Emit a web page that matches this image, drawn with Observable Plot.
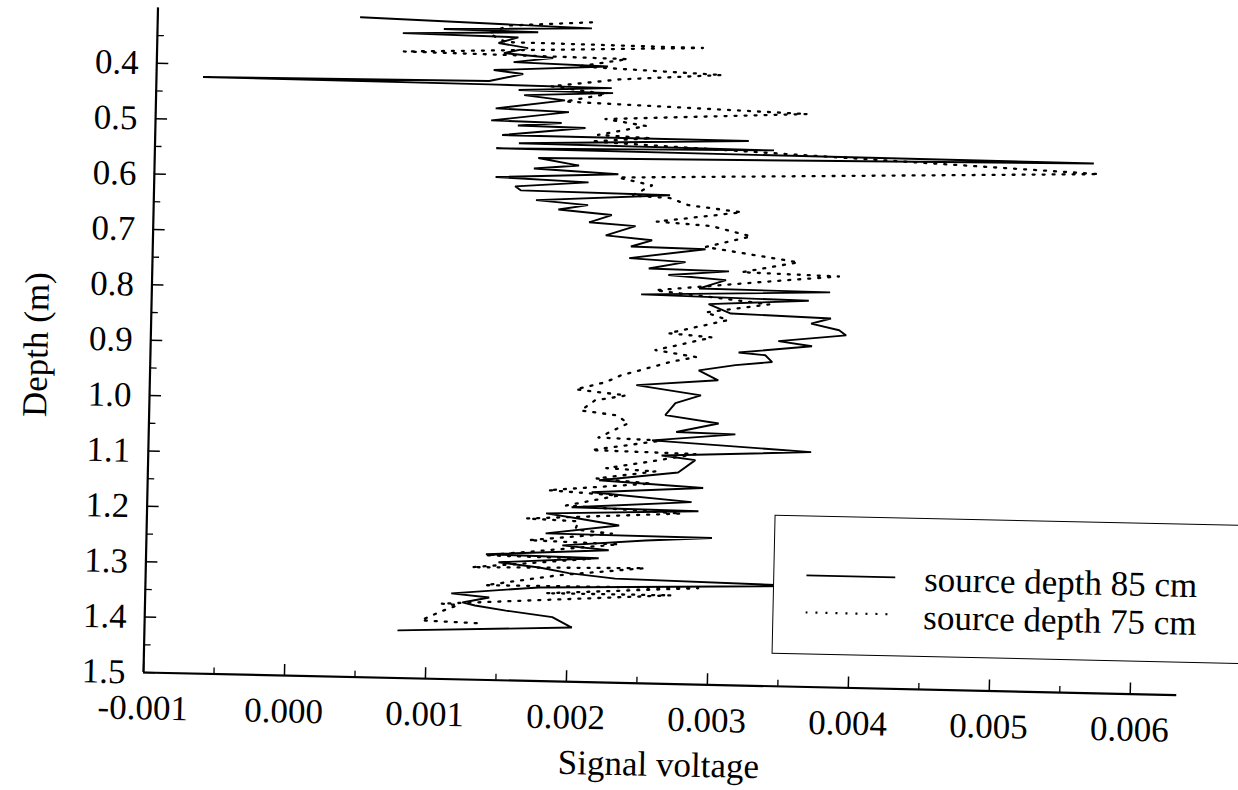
<!DOCTYPE html>
<html><head><meta charset="utf-8">
<script src="https://cdn.jsdelivr.net/npm/d3@7"></script>
<script src="https://cdn.jsdelivr.net/npm/@observablehq/plot@0.6"></script>
<style>
html,body{margin:0;padding:0;background:#fff;overflow:hidden;width:1238px;height:790px}
#fig{position:relative;width:1238px;height:790px;transform:rotate(1.25deg);transform-origin:143px 672px;font-family:"Liberation Serif","Times New Roman",serif;color:#000}
#chart svg{overflow:visible;display:block}
#ytitle{position:absolute;left:29px;top:347px;transform:translate(-50%,-50%) rotate(-90deg);font-size:35px;line-height:1;white-space:nowrap}
#legend{position:absolute;left:771px;top:501px;width:540px;height:139px;border:1.5px solid #000;background:#fff;box-sizing:border-box}
#legend .sample{position:absolute;left:32px}
#legend .lab{position:absolute;left:150px;font-size:35px;line-height:1;white-space:nowrap}
</style></head>
<body><div id="fig"><div id="chart"></div><div id="ytitle"></div><div id="legend"></div></div>
<script>
// Series: source depth 85 cm (solid)
const depth85 = [0.309,0.320,0.327,0.329,0.336,0.339,0.350,0.358,0.368,0.375,
0.384,0.388,0.399,0.405,0.419,0.423,0.425,0.427,0.434,0.436,
0.443,0.451,0.468,0.472,0.490,0.492,0.498,0.500,0.516,0.517,
0.530,0.533,0.540,0.544,0.556,0.568,0.575,0.582,0.592,0.598,
0.608,0.615,0.618,0.632,0.639,0.648,0.656,0.670,0.675,0.693,
0.700,0.712,0.714,0.733,0.738,0.751,0.753,0.762,0.769,0.785,
0.787,0.798,0.803,0.813,0.829,0.834,0.844,0.855,0.864,0.877,
0.885,0.899,0.903,0.915,0.922,0.933,0.950,0.962,0.978,0.993,
1.015,1.028,1.045,1.047,1.061,1.076,1.088,1.095,1.118,1.135,
1.145,1.157,1.171,1.185,1.187,1.197,1.205,1.216,1.233,1.235,
1.242,1.254,1.261,1.273,1.276,1.287,1.295,1.304,1.312,1.318,
1.331,1.345,1.351,1.361,1.366,1.374,1.384,1.402,1.414];
const volt85 = [0.00044,0.00208,0.00103,0.00170,0.00074,0.00156,0.00142,0.00163,0.00146,0.00181,
0.00153,0.00220,0.00139,0.00160,0.00136,-0.00067,0.00136,0.00223,0.00157,0.00224,
0.00161,0.00190,0.00141,0.00193,0.00138,0.00188,0.00157,0.00205,0.00146,0.00321,
0.00158,0.00339,0.00142,0.00566,0.00172,0.00201,0.00169,0.00229,0.00142,0.00208,
0.00156,0.00160,0.00266,0.00171,0.00208,0.00187,0.00225,0.00209,0.00242,0.00221,
0.00254,0.00239,0.00292,0.00238,0.00278,0.00252,0.00309,0.00266,0.00307,0.00288,
0.00381,0.00247,0.00366,0.00295,0.00311,0.00382,0.00368,0.00388,0.00393,0.00345,
0.00369,0.00317,0.00336,0.00341,0.00315,0.00289,0.00303,0.00245,0.00291,0.00273,
0.00266,0.00304,0.00274,0.00316,0.00257,0.00370,0.00264,0.00288,0.00276,0.00220,
0.00294,0.00215,0.00286,0.00201,0.00291,0.00183,0.00206,0.00235,0.00183,0.00301,
0.00254,0.00195,0.00228,0.00141,0.00221,0.00150,0.00179,0.00200,0.00233,0.00365,
0.00179,0.00117,0.00144,0.00125,0.00134,0.00156,0.00189,0.00203,0.00080];

// Series: source depth 75 cm (dotted)
const depth75 = [0.309,0.318,0.333,0.348,0.351,0.369,0.374,0.389,0.399,0.411,
0.426,0.438,0.453,0.466,0.483,0.494,0.512,0.516,0.524,0.563,
0.588,0.601,0.620,0.623,0.635,0.646,0.666,0.672,0.689,0.710,
0.734,0.754,0.758,0.771,0.790,0.811,0.828,0.841,0.867,0.873,
0.898,0.909,0.918,0.945,0.958,0.972,0.981,0.991,1.010,1.017,
1.031,1.058,1.061,1.081,1.084,1.099,1.113,1.117,1.132,1.139,
1.155,1.162,1.182,1.192,1.207,1.210,1.225,1.231,1.246,1.250,
1.275,1.277,1.297,1.292,1.308,1.329,1.326,1.341,1.340,1.364,
1.366,1.378,1.395,1.398];
const volt75 = [0.00208,0.00149,0.00135,0.00147,0.00287,0.00075,0.00234,0.00199,0.00301,0.00228,
0.00180,0.00219,0.00190,0.00362,0.00219,0.00248,0.00214,0.00252,0.00209,0.00570,
0.00229,0.00253,0.00239,0.00266,0.00279,0.00317,0.00257,0.00296,0.00324,0.00292,
0.00358,0.00318,0.00387,0.00332,0.00257,0.00338,0.00293,0.00309,0.00267,0.00298,
0.00258,0.00287,0.00270,0.00234,0.00223,0.00202,0.00238,0.00216,0.00206,0.00231,
0.00240,0.00219,0.00264,0.00214,0.00288,0.00257,0.00225,0.00260,0.00218,0.00257,
0.00184,0.00234,0.00197,0.00279,0.00169,0.00206,0.00204,0.00230,0.00171,0.00235,
0.00141,0.00216,0.00131,0.00254,0.00193,0.00141,0.00292,0.00184,0.00273,0.00110,
0.00122,0.00110,0.00096,0.00137];

const seriesNames = ["source depth 85 cm", "source depth 75 cm"];
const xTicks = [-0.001, 0.000, 0.001, 0.002, 0.003, 0.004, 0.005, 0.006];
const xTickLabels = ["-0.001", "0.000", "0.001", "0.002", "0.003", "0.004", "0.005", "0.006"];
const xMinorTicks = [-0.0005, 0.0005, 0.0015, 0.0025, 0.0035, 0.0045, 0.0055];
const yTicks = [0.4, 0.5, 0.6, 0.7, 0.8, 0.9, 1.0, 1.1, 1.2, 1.3, 1.4, 1.5];
const yTickLabels = ["0.4", "0.5", "0.6", "0.7", "0.8", "0.9", "1.0", "1.1", "1.2", "1.3", "1.4", "1.5"];
const yMinorTicks = [0.35, 0.45, 0.55, 0.65, 0.75, 0.85, 0.95, 1.05, 1.15, 1.25, 1.35, 1.45];
const xTitle = "Signal voltage";
const yTitle = "Depth (m)";
const xDomain = [-0.001, 0.00633];
const yDomain = [0.3, 1.5];

const rows85 = depth85.map((d, i) => ({depth: d, v: volt85[i]}));
const rows75 = depth75.map((d, i) => ({depth: d, v: volt75[i]}));

const serif = "'Liberation Serif', 'Times New Roman', Times, serif";
const chart = Plot.plot({
  width: 1238, height: 790,
  marginLeft: 143, marginRight: 61.5, marginTop: 7.2, marginBottom: 118,
  style: {fontFamily: serif, fontSize: "34px", color: "#000", background: "transparent"},
  x: {domain: xDomain},
  y: {domain: yDomain, reverse: true},
  marks: [
    Plot.line(rows75, {x: "v", y: "depth", stroke: "#000", strokeWidth: 2.3, strokeDasharray: "2 8", strokeLinejoin: "round"}),
    Plot.line(rows85, {x: "v", y: "depth", stroke: "#000", strokeWidth: 1.9, strokeLinejoin: "miter"}),
    Plot.ruleX([xDomain[0]], {stroke: "#000", strokeWidth: 2.2}),
    Plot.ruleY([yDomain[1]], {stroke: "#000", strokeWidth: 2.2}),
    Plot.axisX(xTicks, {tickSize: -11, tickFormat: () => "", label: null, strokeWidth: 1.5}),
    Plot.axisX(xMinorTicks, {tickSize: -6, tickFormat: () => "", label: null, strokeWidth: 1.3}),
    Plot.axisX(xTicks, {tickSize: 0, tickPadding: 22, label: null, fontSize: 35, fontFamily: serif, tickFormat: d => xTickLabels[xTicks.indexOf(d)]}),
    Plot.axisY(yTicks, {tickSize: -12, tickFormat: () => "", label: null, strokeWidth: 1.5}),
    Plot.axisY(yMinorTicks, {tickSize: -7, tickFormat: () => "", label: null, strokeWidth: 1.3}),
    Plot.axisY(yTicks, {tickSize: 0, tickPadding: 18, label: null, fontSize: 35, fontFamily: serif, tickFormat: d => yTickLabels[yTicks.indexOf(d)]}),
    Plot.text([xTitle], {frameAnchor: "bottom", dy: 81, text: d => d, fontSize: 35, fontFamily: serif, lineAnchor: "middle"})
  ]
});
document.getElementById("chart").appendChild(chart);
document.getElementById("ytitle").textContent = yTitle;

// Legend
const legend = document.getElementById("legend");
const ns = "http://www.w3.org/2000/svg";
const legendSpecs = [
  {name: seriesNames[0], dash: null, width: 1.8, lineTop: 59, textTop: 43, len: 89},
  {name: seriesNames[1], dash: "2 8", width: 2.2, lineTop: 96, textTop: 81, len: 84}
];
legendSpecs.forEach(s => {
  const svg = document.createElementNS(ns, "svg");
  svg.setAttribute("width", s.len + 4);
  svg.setAttribute("height", 6);
  svg.setAttribute("class", "sample");
  svg.style.top = (s.lineTop - 3) + "px";
  const ln = document.createElementNS(ns, "line");
  ln.setAttribute("x1", 0); ln.setAttribute("x2", s.len);
  ln.setAttribute("y1", 3); ln.setAttribute("y2", 3);
  ln.setAttribute("stroke", "#000");
  ln.setAttribute("stroke-width", s.width);
  if (s.dash) ln.setAttribute("stroke-dasharray", s.dash);
  svg.appendChild(ln);
  legend.appendChild(svg);
  const t = document.createElement("div");
  t.className = "lab";
  t.style.top = s.textTop + "px";
  t.textContent = s.name;
  legend.appendChild(t);
});
</script>
</body></html>
